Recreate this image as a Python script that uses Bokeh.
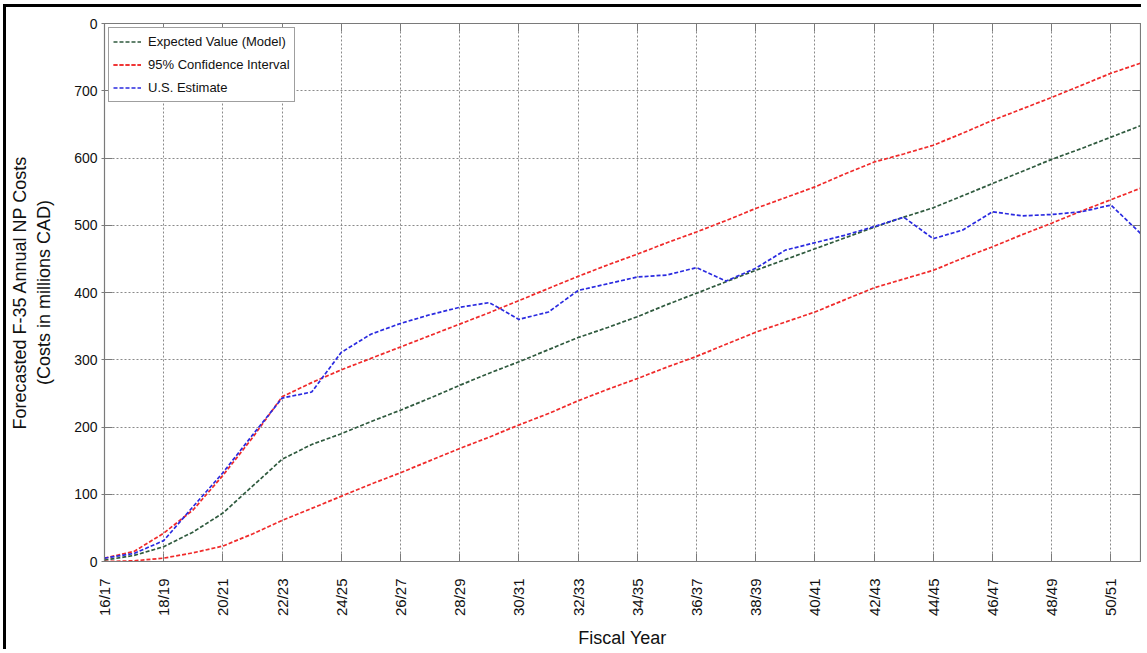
from bokeh.plotting import figure
from bokeh.models import FixedTicker, LinearAxis, Range1d, Legend, LegendItem
from bokeh.embed import file_html
from bokeh.resources import INLINE
import math

fiscal_years = ["16/17", "17/18", "18/19", "19/20", "20/21", "21/22", "22/23", "23/24",
                "24/25", "25/26", "26/27", "27/28", "28/29", "29/30", "30/31", "31/32",
                "32/33", "33/34", "34/35", "35/36", "36/37", "37/38", "38/39", "39/40",
                "40/41", "41/42", "42/43", "43/44", "44/45", "45/46", "46/47", "47/48",
                "48/49", "49/50", "50/51", "51/52"]

expected_value = [2, 9, 22, 44, 72, 112, 152, 174, 190, 208, 225, 243, 262, 280, 297, 315,
                  333, 348, 364, 382, 399, 416, 433, 449, 465, 481, 497, 512, 526, 544, 562,
                  580, 598, 614, 631, 648]
ci_upper = [5, 15, 42, 77, 128, 184, 245, 266, 285, 302, 319, 336, 353, 370, 388, 406,
            424, 441, 457, 474, 490, 507, 525, 541, 557, 576, 594, 606, 619, 637, 656,
            673, 690, 708, 726, 741]
ci_lower = [0, 1, 5, 13, 23, 41, 61, 79, 97, 115, 132, 150, 168, 185, 203, 220,
            239, 256, 272, 289, 305, 323, 341, 356, 371, 389, 407, 420, 433, 451, 468,
            486, 503, 521, 538, 555]
us_estimate = [5, 12, 31, 82, 132, 188, 243, 252, 311, 338, 354, 367, 378, 385, 360, 371,
               403, 413, 423, 426, 437, 417, 436, 463, 474, 485, 498, 512, 480, 493, 520,
               514, 516, 520, 530, 488]

y_ticks = [0, 100, 200, 300, 400, 500, 600, 700, 800]
y_tick_labels = ["0", "100", "200", "300", "400", "500", "600", "700", "0"]

FONT = "Liberation Sans"
AXIS_COLOR = "#7a7a7a"

x = list(range(len(fiscal_years)))
x_tick_pos = [i for i, lab in enumerate(fiscal_years) if i % 2 == 0 and i < len(fiscal_years) - 1]

p = figure(width=1138, height=645, output_backend="svg", toolbar_location=None,
           x_range=Range1d(0, len(fiscal_years) - 1), y_range=Range1d(y_ticks[0], y_ticks[-1]),
           min_border_left=98, min_border_right=4, min_border_top=16, min_border_bottom=91)
p.styles = {"border-top": "3px solid black", "border-left": "3px solid black",
            "margin-top": "4px", "margin-left": "3px"}
p.outline_line_color = AXIS_COLOR
p.outline_line_width = 1.2

# axes
p.xaxis.ticker = FixedTicker(ticks=x_tick_pos)
p.xaxis.major_label_overrides = {i: fiscal_years[i] for i in x_tick_pos}
p.xaxis.major_label_orientation = math.pi / 2
p.yaxis.ticker = FixedTicker(ticks=y_ticks)
p.yaxis.major_label_overrides = {v: l for v, l in zip(y_ticks, y_tick_labels)}

for ax in (p.xaxis[0], p.yaxis[0]):
    ax.axis_line_color = AXIS_COLOR
    ax.major_tick_line_color = AXIS_COLOR
    ax.minor_tick_line_color = None
    ax.major_label_text_font = FONT
    ax.major_label_text_color = "#111111"
    ax.axis_label_text_font = FONT
    ax.axis_label_text_font_style = "normal"
    ax.axis_label_text_color = "#111111"
    ax.axis_label_text_font_size = "18px"

p.xaxis.major_tick_in = 8
p.xaxis.major_tick_out = 0
p.xaxis.major_label_text_font_size = "15px"
p.xaxis.major_label_standoff = 17
p.xaxis.axis_label = "Fiscal Year"
p.xaxis.axis_label_standoff = 9

p.yaxis.major_tick_in = 8
p.yaxis.major_tick_out = 3
p.yaxis.major_label_text_font_size = "14px"
p.yaxis.major_label_standoff = 4
p.yaxis.axis_label = "Forecasted F-35 Annual NP Costs\n(Costs in millions CAD)"
p.yaxis.axis_label_standoff = 17

top_ax = LinearAxis(ticker=FixedTicker(ticks=x_tick_pos), major_label_text_font_size="1px",
                    major_label_text_color=None,
                    major_tick_in=8, major_tick_out=0, axis_line_color=AXIS_COLOR,
                    major_tick_line_color=AXIS_COLOR, minor_tick_line_color=None,
                    major_label_standoff=0)
right_ax = LinearAxis(ticker=FixedTicker(ticks=y_ticks), major_label_text_font_size="1px",
                      major_label_text_color=None,
                      major_tick_in=8, major_tick_out=0, axis_line_color=AXIS_COLOR,
                      major_tick_line_color=AXIS_COLOR, minor_tick_line_color=None,
                      major_label_standoff=0)
p.add_layout(top_ax, "above")
p.add_layout(right_ax, "right")

# grid
for g in (p.xgrid[0], p.ygrid[0]):
    g.grid_line_color = "#8a8a8a"
    g.grid_line_dash = "2 2"
    g.grid_line_width = 1
p.xgrid.ticker = FixedTicker(ticks=x_tick_pos)
p.ygrid.ticker = FixedTicker(ticks=y_ticks)

DASH = "4 2"
GREEN = "#2f5a3e"
RED = "#f02a2a"
BLUE = "#2a2ae0"

r_exp = p.line(x, expected_value, line_color=GREEN, line_width=1.7, line_dash=DASH)
r_up = p.line(x, ci_upper, line_color=RED, line_width=1.7, line_dash=DASH)
r_lo = p.line(x, ci_lower, line_color=RED, line_width=1.7, line_dash=DASH)
r_us = p.line(x, us_estimate, line_color=BLUE, line_width=1.7, line_dash=DASH)

legend = Legend(items=[LegendItem(label="Expected Value (Model)", renderers=[r_exp]),
                       LegendItem(label="95% Confidence Interval", renderers=[r_up, r_lo]),
                       LegendItem(label="U.S. Estimate", renderers=[r_us])],
                location="top_left")
legend.margin = 4
legend.padding = 4
legend.spacing = 4
legend.label_height = 19
legend.glyph_height = 19
legend.glyph_width = 28
legend.label_standoff = 7
legend.label_text_font = FONT
legend.label_text_font_size = "13px"
legend.label_text_color = "#111111"
legend.border_line_color = "#404040"
legend.border_line_width = 1
legend.background_fill_alpha = 1
p.add_layout(legend, "center")

open("out.html", "w").write(file_html(p, INLINE))
